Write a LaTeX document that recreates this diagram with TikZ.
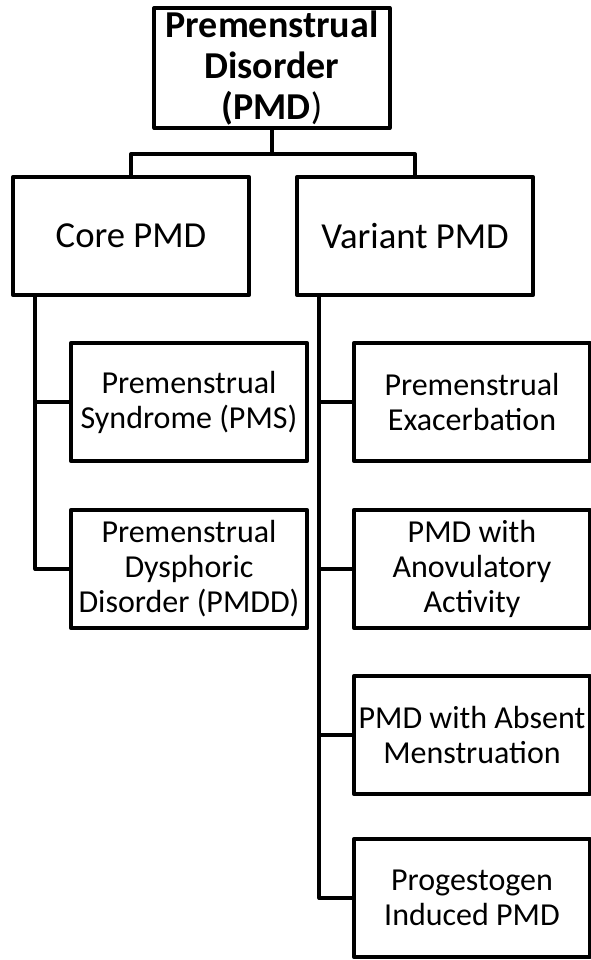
\documentclass[tikz,border=0pt]{standalone}
\usepackage{fontspec}
\setmainfont{Carlito}

\begin{document}
\begin{tikzpicture}[x=0.75pt, y=-0.75pt,
    box/.style={draw, line width=3pt, line join=round, minimum width=176.5pt, minimum height=89pt, inner sep=0pt, align=center},
    bigtext/.style={font=\fontsize{27.5}{30.75}\selectfont},
    smalltext/.style={font=\fontsize{24}{26.25}\selectfont},
    link/.style={line width=3pt, line join=round}]
    \fill[white] (0,0) rectangle (591,960);
    \useasboundingbox (0,0) rectangle (591,960);

    % top level
    \node[box, bigtext, minimum height=90pt, font=\fontsize{28.5}{30.75}\selectfont] (pmd) at (272,68) {\textbf{Premenstrual}\\\textbf{Disorder}\\\textbf{(PMD})};

    % second level
    \node[box, bigtext] (core) at (131,236) {Core PMD};
    \node[box, bigtext] (variant) at (415,236) {Variant PMD};

    % core PMD
    \node[box, smalltext] (pms) at (189,402) {Premenstrual\\Syndrome (PMS)};
    \node[box, smalltext] (pmdd) at (189,569) {Premenstrual\\Dysphoric\\Disorder (PMDD)};

    % variant PMD
    \node[box, smalltext] (exacerb) at (472,402) {Premenstrual\\Exacerbation};
    \node[box, smalltext] (anovul) at (472,569) {PMD with\\Anovulatory\\Activity};
    \node[box, smalltext] (absent) at (472,735) {PMD with Absent\\Menstruation};
    \node[box, smalltext] (progest) at (472,898) {Progestogen\\Induced PMD};

    % connectors
    \draw[link] (pmd.south) -- ++(0,24) -| (core.north);
    \draw[link] (pmd.south) -- ++(0,24) -| (variant.north);
    \draw[link] ([xshift=18pt]core.south west) |- (pms.west);
    \draw[link] ([xshift=18pt]core.south west) |- (pmdd.west);
    \draw[link] ([xshift=18pt]variant.south west) |- (exacerb.west);
    \draw[link] ([xshift=18pt]variant.south west) |- (anovul.west);
    \draw[link] ([xshift=18pt]variant.south west) |- (absent.west);
    \draw[link] ([xshift=18pt]variant.south west) |- (progest.west);
\end{tikzpicture}
\end{document}
